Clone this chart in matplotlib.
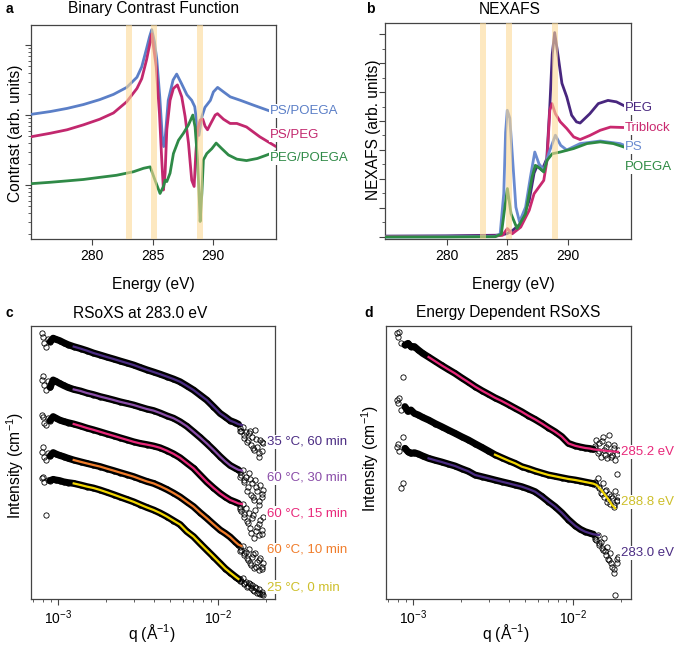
import matplotlib
matplotlib.use('Agg')
import matplotlib.pyplot as plt
import numpy as np

plt.rcParams['font.family'] = ['Liberation Sans', 'DejaVu Sans']
plt.rcParams['mathtext.fontset'] = 'custom'
plt.rcParams['mathtext.rm'] = 'Liberation Sans'
plt.rcParams['mathtext.it'] = 'Liberation Sans:italic'
plt.rcParams['mathtext.bf'] = 'Liberation Sans:bold'

W, H = 675, 667

# ---------------- panel a: binary contrast (log10 of contrast) ----------------
a_ps_poega_E = [274.9, 276.5, 277.9, 279.25, 280.6, 281.75, 282.85, 283.7, 284.1, 284.5, 284.75,
                284.93, 285.15, 285.35, 285.6, 285.8, 285.92, 286.05, 286.3, 286.7, 287.0, 287.4,
                287.85, 288.25, 288.5, 288.7, 288.85, 289.1, 289.35, 289.8, 290.05, 290.4, 290.9,
                291.45, 292.3, 293.4, 294.7]
a_ps_poega = [0.01, 0.05, 0.095, 0.15, 0.22, 0.295, 0.395, 0.54, 0.69, 0.95, 1.12,
              1.22, 1.05, 0.79, 0.25, -0.3, -0.45, -0.31, 0.21, 0.5, 0.585, 0.45,
              0.29, 0.21, 0.12, -0.15, -0.29, -0.02, 0.11, 0.21, 0.33, 0.395, 0.33,
              0.26, 0.21, 0.14, 0.06]
a_ps_peg_E = [274.9, 276.5, 277.9, 279.25, 280.6, 281.75, 282.85, 283.7, 284.1, 284.5, 284.75,
              284.93, 285.3, 285.57, 285.76, 285.9, 286.04, 286.18, 286.45, 286.73, 287.06, 287.42,
              287.7, 287.98, 288.25, 288.45, 288.59, 288.73, 288.95, 289.17, 289.36, 289.56, 289.83,
              290.2, 290.39, 290.89, 291.44, 292.0, 292.8, 293.9, 295.25]
a_ps_peg = [-0.31, -0.26, -0.21, -0.14, -0.06, 0.03, 0.19, 0.38, 0.52, 0.79, 1.0,
            1.16, 0.69, 0.02, -0.64, -1.07, -0.83, -0.21, 0.21, 0.38, 0.43, 0.26,
            -0.02, -0.40, -0.93, -1.02, -0.55, -0.21, -0.07, -0.06, -0.16, -0.21, -0.12,
            0.0, 0.02, -0.06, -0.12, -0.12, -0.17, -0.31, -0.45]
a_peg_poega_E = [274.9, 276.5, 277.9, 279.25, 280.6, 282.0, 283.4, 284.25, 284.8, 285.2, 285.62,
                 285.9, 286.04, 286.18, 286.45, 286.73, 287.15, 287.56, 287.98, 288.34, 288.53,
                 288.73, 288.88, 288.95, 289.09, 289.22, 289.5, 289.92, 290.28, 290.75, 291.3,
                 292.0, 292.8, 293.7, 294.5, 295.25]
a_peg_poega = [-0.98, -0.96, -0.94, -0.92, -0.89, -0.86, -0.81, -0.76, -0.74, -0.93, -1.12,
               -1.02, -0.93, -0.95, -0.83, -0.55, -0.36, -0.26, -0.14, 0.0, -0.17,
               -0.64, -1.21, -1.52, -1.12, -0.64, -0.55, -0.48, -0.40, -0.48, -0.57,
               -0.63, -0.65, -0.62, -0.57, -0.52]
a_names = ['PS/POEGA', 'PS/PEG', 'PEG/POEGA']
a_label_y = [0.057, -0.286, -0.614]
a_colors = ['#5b7fc7', '#c2286e', '#2f8a47']

# ---------------- panel b: NEXAFS ----------------
b_peg_E = [274.9, 280, 284.0, 284.6, 285.0, 285.5, 286.1, 286.8, 287.2, 287.45, 287.85, 288.25,
           288.5, 288.7, 288.9, 289.2, 289.5, 289.9, 290.3, 290.7, 291.0, 291.8, 292.5, 293.3,
           294.0, 295.0]
b_peg = [0.03, 0.04, 0.06, 0.08, 0.12, 0.25, 0.46, 1.26, 2.2, 2.45, 2.3, 2.7,
         4.5, 6.3, 7.05, 6.2, 5.3, 4.83, 4.2, 3.97, 3.93, 4.25, 4.6, 4.71,
         4.66, 4.45]
b_tri_E = [274.9, 280, 284.0, 284.6, 285.0, 285.4, 286.1, 286.8, 287.2, 287.6, 288.0, 288.27,
           288.5, 288.68, 288.96, 289.37, 289.9, 290.47, 291.0, 291.8, 292.66, 293.5, 295.0]
b_tri = [0.02, 0.02, 0.03, 0.06, 0.29, 0.11, 0.34, 0.92, 1.49, 1.72, 1.95, 2.64,
         4.37, 4.6, 4.25, 3.97, 3.74, 3.45, 3.36, 3.5, 3.68, 3.79, 3.77]
b_ps_E = [274.9, 280, 284.0, 284.4, 284.7, 284.85, 284.99, 285.2, 285.4, 285.7, 286.0, 286.5,
          286.9, 287.26, 287.6, 288.0, 288.4, 288.96, 289.4, 289.9, 290.4, 291.0, 292.66, 294.3,
          295.0]
b_ps = [0.0, 0.01, 0.02, 0.1, 1.5, 3.6, 4.37, 4.1, 2.87, 1.03, 0.52, 1.03,
        2.07, 2.93, 2.53, 2.30, 2.87, 3.51, 3.16, 3.0, 3.1, 3.22, 3.31, 3.22,
        3.1]
b_poega_E = [274.9, 280, 284.0, 284.5, 284.75, 285.0, 285.3, 285.8, 286.5, 287.04, 287.3, 287.7,
             288.0, 288.27, 288.7, 289.37, 290.47, 291.56, 292.66, 293.75, 295.0]
b_poega = [0.0, 0.0, 0.01, 0.1, 0.9, 1.67, 0.8, 0.29, 0.8, 2.07, 2.47, 2.36,
           2.24, 2.64, 2.87, 2.93, 3.05, 3.22, 3.28, 3.22, 3.05]
b_names = ['PEG', 'Triblock', 'PS', 'POEGA']
b_label_y = [4.45, 3.76, 3.10, 2.41]
b_colors = ['#48267e', '#c9296f', '#6a8bd0', '#2d8a43']

bands = [283.0, 285.1, 288.9]

# ---------------- panels c, d: RSoXS (log10 intensity, offset) ----------------
q_left = [0.00079, 0.00080, 0.00082, 0.00084, 0.00086, 0.00089, 0.00093, 0.00097, 0.00102,
          0.00108, 0.00115]
q_main = [0.00125, 0.00138, 0.00151, 0.00166, 0.00183, 0.00201, 0.00222, 0.00244, 0.00269,
          0.00296, 0.00325, 0.00358, 0.00395, 0.00434, 0.00478, 0.00526, 0.00579, 0.00637,
          0.00702, 0.00772, 0.00849, 0.00935, 0.0103, 0.0111, 0.0119, 0.0128, 0.0134]
q_tail = [0.0137, 0.0140, 0.0143, 0.0146, 0.0150, 0.0153, 0.0156, 0.0160, 0.0163, 0.0167,
          0.0171, 0.0175, 0.0179, 0.0183, 0.0187, 0.0191,
          0.0138, 0.0145, 0.0152, 0.0158, 0.0165, 0.0173, 0.0181, 0.0189]

c_names = ['35 °C, 60 min', '60 °C, 30 min', '60 °C, 15 min', '60 °C, 10 min', '25 °C, 0 min']
c_colors = ['#4b2c83', '#8a4da8', '#e8287a', '#f07c2a', '#f2d600']
c_text_colors = ['#4b2c83', '#8a4da8', '#e8287a', '#f07c2a', '#cdbf2a']
c_label_y = [3.925, 3.025, 2.15, 1.225, 0.3]
c_left = [
    [6.64, 6.54, 6.41, 6.31, 6.49, 6.43, 6.52, 6.49, 6.46, 6.41, 6.36],
    [5.475, 5.575, 5.35, 5.225, 5.44, 5.29, 5.475, 5.44, 5.39, 5.34, 5.29],
    [4.6, 4.54, 4.41, 4.35, 4.52, 4.46, 4.56, 4.52, 4.475, 4.44, 4.41],
    [3.68, 3.81, 3.56, 3.475, 3.64, 3.575, 3.66, 3.625, 3.59, 3.56, 3.52],
    [3.02, 3.06, 2.93, 2.1, 2.975, 2.96, 2.99, 2.975, 2.96, 2.93, 2.91],
]
c_main = [
    [6.31, 6.26, 6.21, 6.15, 6.10, 6.05, 6.0, 5.95, 5.90, 5.85, 5.79, 5.73, 5.675, 5.62,
     5.56, 5.5, 5.43, 5.33, 5.225, 5.1, 4.975, 4.81, 4.64, 4.55, 4.46, 4.41, 4.37],
    [5.24, 5.2, 5.15, 5.11, 5.06, 5.02, 4.975, 4.93, 4.89, 4.85, 4.8, 4.75, 4.71, 4.65,
     4.58, 4.52, 4.43, 4.32, 4.18, 4.04, 3.89, 3.73, 3.56, 3.44, 3.34, 3.27, 3.23],
    [4.375, 4.325, 4.275, 4.23, 4.18, 4.13, 4.08, 4.03, 3.98, 3.93, 3.89, 3.86, 3.825, 3.78,
     3.71, 3.63, 3.53, 3.4, 3.27, 3.1, 2.93, 2.78, 2.64, 2.55, 2.475, 2.425, 2.39],
    [3.475, 3.43, 3.39, 3.35, 3.31, 3.26, 3.21, 3.16, 3.11, 3.06, 3.0, 2.94, 2.89, 2.82,
     2.74, 2.65, 2.55, 2.43, 2.31, 2.16, 2.02, 1.87, 1.725, 1.64, 1.55, 1.43, 1.36],
    [2.89, 2.85, 2.81, 2.775, 2.725, 2.67, 2.61, 2.55, 2.49, 2.43, 2.36, 2.29, 2.225, 2.15,
     2.06, 1.96, 1.86, 1.69, 1.56, 1.39, 1.225, 1.06, 0.89, 0.76, 0.66, 0.56, 0.5],
]
c_fit_end_q = [0.0141, 0.0141, 0.0141, 0.0140, None]
c_fit_end = [4.35, 3.21, 2.375, 1.325, None]
c_tail = [
    [4.27, 4.21, 4.31, 4.1, 4.18, 3.975, 4.16, 3.85, 4.06, 3.725, 4.225, 3.81, 3.56, 3.98, 3.69, 3.89,
     4.2, 4.02, 3.92, 4.2, 3.78, 4.0, 3.66, 3.93],
    [3.18, 3.1, 3.225, 2.93, 3.06, 2.81, 3.14, 2.6, 2.89, 2.475, 2.975, 2.69, 2.35, 2.85, 2.56, 2.725,
     3.05, 2.98, 2.7, 3.0, 2.55, 2.8, 2.45, 2.62],
    [2.31, 2.21, 2.375, 2.06, 2.27, 1.89, 2.14, 1.64, 2.02, 1.52, 2.225, 1.81, 1.6, 1.975, 1.725, 2.06,
     2.25, 2.12, 1.95, 1.78, 2.1, 1.7, 1.88, 1.62],
    [1.29, 1.225, 1.325, 1.1, 1.18, 0.975, 1.24, 0.85, 1.06, 0.775, 1.14, 0.93, 0.725, 1.02, 0.81, 0.89,
     1.2, 1.15, 1.02, 0.9, 1.12, 0.8, 0.98, 0.75],
    [0.49, 0.46, 0.52, 0.39, 0.43, 0.325, 0.41, 0.27, 0.35, 0.21, 0.31, 0.16, 0.24, 0.125, 0.18, 0.1,
     0.45, 0.37, 0.3, 0.38, 0.22, 0.27, 0.15, 0.12],
]

d_names = ['285.2 eV', '288.8 eV', '283.0 eV']
d_colors = ['#e8287a', '#f2d600', '#4b2c83']
d_text_colors = ['#e8287a', '#cdbf2a', '#4b2c83']
d_label_y = [3.675, 2.425, 1.15]
d_left = [
    [6.64, 6.56, 6.68, 6.41, 5.56, 6.35, 6.39, 6.31, 6.31, 6.225, 6.14],
    [4.975, 4.89, 5.02, 4.725, 4.06, 4.81, 4.69, 4.725, 4.64, 4.6, 4.54],
    [3.808, 3.875, 3.708, 2.767, 2.892, 3.767, 3.683, 3.642, 3.658, 3.625, 3.575],
]
d_main = [
    [6.05, 5.94, 5.84, 5.74, 5.64, 5.53, 5.42, 5.31, 5.21, 5.12, 5.03, 4.95, 4.86, 4.77,
     4.68, 4.58, 4.49, 4.39, 4.28, 4.18, 4.06, 3.89, 3.83, 3.8, 3.775, 3.76, 3.74],
    [4.475, 4.383, 4.308, 4.225, 4.142, 4.058, 3.975, 3.883, 3.792, 3.7, 3.608, 3.533, 3.458,
     3.392, 3.308, 3.258, 3.2, 3.15, 3.1, 3.067, 3.033, 3.0, 2.975, 2.95, 2.925, 2.9, 2.883],
    [3.517, 3.467, 3.425, 3.375, 3.325, 3.258, 3.192, 3.1, 3.058, 3.017, 2.975, 2.933, 2.892,
     2.85, 2.808, 2.75, 2.683, 2.567, 2.433, 2.308, 2.158, 1.983, 1.833, 1.742, 1.683, 1.642, 1.617],
]
d_fit_start = [0, 10, 0]
d_fit_end_q = [[0.0150, 0.0163, 0.0176, 0.0191],
               [0.0140, 0.0150, 0.0160, 0.0167, 0.0175, 0.0183],
               [0.0145]]
d_fit_end = [[3.72, 3.70, 3.69, 3.68],
             [2.85, 2.725, 2.575, 2.475, 2.35, 2.27],
             [1.6]]
d_tail = [
    [3.77, 3.975, 3.64, 3.89, 3.56, 4.06, 3.725, 3.81, 3.52, 4.1, 3.68, 3.6, 3.85, 3.475, 3.125, 3.725,
     3.82, 3.7, 3.95, 3.6, 3.88, 3.55, 3.78, 3.62],
    [2.93, 2.85, 3.017, 2.767, 2.658, 2.908, 2.558, 2.725, 2.433, 2.625, 2.375, 2.517, 2.29, 2.69, 2.44, 2.56,
     2.9, 2.8, 2.62, 2.7, 2.5, 2.58, 2.35, 2.48],
    [1.542, 1.475, 1.6, 1.35, 1.433, 1.225, 1.517, 1.1, 1.308, 0.975, 1.142, 0.808, 0.642, 0.1, 0.892, 1.058,
     1.5, 1.4, 1.28, 1.2, 1.0, 0.9, 0.75, 1.0],
]

SPINE = '#444444'


def add_ax(fig, l, t, r, b):
    return fig.add_axes([l / W, 1 - b / H, (r - l) / W, (b - t) / H])


def style(ax):
    for s in ax.spines.values():
        s.set_color(SPINE)
        s.set_linewidth(0.9)
    ax.tick_params(which='both', direction='out', color=SPINE, labelsize=10, pad=3)
    ax.tick_params(which='major', length=4)
    ax.tick_params(which='minor', length=2.2)


def ftext(fig, x, y, s, **kw):
    fig.text(x / W, 1 - y / H, s, ha='center', va='center', **kw)


def side_label(ax, x, y, s, color):
    ax.text(x, y, s, color=color, fontsize=9.5, va='center', ha='left',
            transform=ax.get_yaxis_transform(), clip_on=False, zorder=10,
            bbox=dict(facecolor='white', edgecolor='none', pad=0.6))


def rsoxs(ax, left, main, tail):
    for i in range(len(main)):
        # dense data band
        ax.plot(q_left[5:] + q_main, left[i][5:] + main[i], color='black', lw=5.0,
                solid_capstyle='round', zorder=2)
        ax.plot(q_left + q_main + q_tail, left[i] + main[i] + tail[i], ls='none', marker='o',
                ms=3.8, mfc='none', mec='black', mew=0.6, zorder=2)


fig = plt.figure(figsize=(W / 100, H / 100), dpi=100)

# ---- a ----
ax = add_ax(fig, 31, 25, 276, 239)
style(ax)
for E, v, c in zip([a_ps_poega_E, a_ps_peg_E, a_peg_poega_E],
                   [a_ps_poega, a_ps_peg, a_peg_poega], a_colors):
    ax.plot(E, 10 ** np.array(v), color=c, lw=2.0, solid_capstyle='round', zorder=3)
for e in bands:
    ax.axvspan(e - 0.25, e + 0.25, color='#fcd996', alpha=0.6, lw=0, zorder=4)
ax.set_yscale('log')
ax.set_xlim(274.9, 295.25)
ax.set_ylim(10 ** -1.77, 10 ** 1.286)
ax.set_xticks([280, 285, 290])
ax.yaxis.set_major_formatter(plt.NullFormatter())
ax.yaxis.set_minor_formatter(plt.NullFormatter())
for n, y, c in zip(a_names, a_label_y, a_colors):
    side_label(ax, 0.976, 10 ** y, n, c)

# ---- b ----
ax = add_ax(fig, 385, 23, 631, 239)
style(ax)
for E, v, c in zip([b_peg_E, b_tri_E, b_ps_E, b_poega_E],
                   [b_peg, b_tri, b_ps, b_poega], b_colors):
    ax.plot(E, v, color=c, lw=2.0, solid_capstyle='round', zorder=3)
for e in bands:
    ax.axvspan(e - 0.25, e + 0.25, color='#fcd996', alpha=0.6, lw=0, zorder=4)
ax.set_xlim(274.9, 295.2)
ax.set_ylim(-0.07, 7.38)
ax.set_xticks([280, 285, 290])
ax.set_yticks(np.arange(0, 8, 1))
ax.set_yticks(np.arange(0.5, 7.5, 1), minor=True)
ax.set_yticklabels([])
for n, y, c in zip(b_names, b_label_y, b_colors):
    side_label(ax, 0.976, y, n, c)

# ---- c ----
ax = add_ax(fig, 31, 326, 275, 599)
style(ax)
rsoxs(ax, c_left, c_main, c_tail)
for i, c in enumerate(c_colors):
    qf = list(q_main)
    yf = list(c_main[i])
    if c_fit_end[i] is not None:
        qf.append(c_fit_end_q[i])
        yf.append(c_fit_end[i])
    ax.plot(qf, yf, color=c, lw=1.6, zorder=4)
ax.set_xscale('log')
ax.set_xlim(6.76e-4, 0.0227)
ax.set_ylim(0, 6.825)
ax.set_yticks([])
for n, y, c in zip(c_names, c_label_y, c_text_colors):
    side_label(ax, 0.967, y, n, c)

# ---- d ----
ax = add_ax(fig, 386, 326, 631, 599)
style(ax)
rsoxs(ax, d_left, d_main, d_tail)
for i, c in enumerate(d_colors):
    s = d_fit_start[i]
    ax.plot(q_main[s:] + d_fit_end_q[i], d_main[i][s:] + d_fit_end[i], color=c, lw=1.6, zorder=4)
ax.set_xscale('log')
ax.set_xlim(6.78e-4, 0.0230)
ax.set_ylim(0, 6.825)
ax.set_yticks([])
for n, y, c in zip(d_names, d_label_y, d_text_colors):
    side_label(ax, 0.959, y, n, c)

# ---- texts ----
ftext(fig, 154, 9, 'Binary Contrast Function', fontsize=11.2)
ftext(fig, 510, 9, 'NEXAFS', fontsize=11.2)
ftext(fig, 140, 313, 'RSoXS at 283.0 eV', fontsize=11.2)
ftext(fig, 508, 313, 'Energy Dependent RSoXS', fontsize=11.2)
for x, y, s in [(9, 9, 'a'), (370, 9, 'b'), (9, 313, 'c'), (369, 313, 'd')]:
    ftext(fig, x, y, s, fontsize=10, fontweight='bold')
ftext(fig, 153, 284, 'Energy (eV)', fontsize=11.2)
ftext(fig, 513, 284, 'Energy (eV)', fontsize=11.2)
ftext(fig, 152, 633, 'q (Å$^{-1}$)', fontsize=11.2)
ftext(fig, 506, 633, 'q (Å$^{-1}$)', fontsize=11.2)
ftext(fig, 16, 133, 'Contrast (arb. units)', fontsize=11.2, rotation=90)
ftext(fig, 373, 130, 'NEXAFS (arb. units)', fontsize=11.2, rotation=90)
ftext(fig, 15, 465, 'Intensity (cm$^{-1}$)', fontsize=11.2, rotation=90)
ftext(fig, 370, 458, 'Intensity (cm$^{-1}$)', fontsize=11.2, rotation=90)

fig.savefig('out.png', dpi=100)
